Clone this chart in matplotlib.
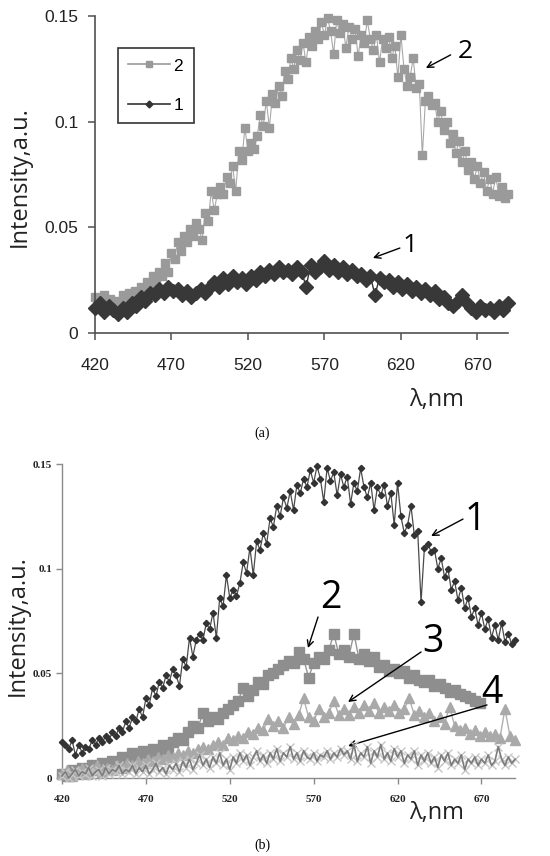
import numpy as np
import matplotlib.pyplot as plt
from matplotlib.lines import Line2D

plt.rcParams['font.family'] = ['Liberation Sans', 'DejaVu Sans']

# main spectrum: curve 2 in (a), curve 1 in (b); 2 nm step from 420 nm
main_spec = [
    0.017, 0.016, 0.014, 0.018, 0.011, 0.016, 0.012, 0.015, 0.014, 0.018,
    0.016, 0.019, 0.017, 0.020, 0.018, 0.022, 0.020, 0.024, 0.022, 0.027,
    0.024, 0.029, 0.027, 0.033, 0.029, 0.038, 0.035, 0.043, 0.039, 0.046,
    0.043, 0.049, 0.046, 0.052, 0.049, 0.044, 0.057, 0.053, 0.067, 0.058,
    0.066, 0.069, 0.066, 0.074, 0.071, 0.079, 0.067, 0.086, 0.082, 0.097,
    0.086, 0.090, 0.087, 0.093, 0.103, 0.098, 0.110, 0.097, 0.113, 0.109,
    0.117, 0.112, 0.124, 0.120, 0.130, 0.125, 0.134, 0.129, 0.137, 0.128,
    0.140, 0.136, 0.143, 0.139, 0.147, 0.141, 0.149, 0.143, 0.132, 0.148,
    0.142, 0.146, 0.135, 0.145, 0.139, 0.144, 0.131, 0.141, 0.137, 0.148,
    0.139, 0.134, 0.141, 0.128, 0.139, 0.135, 0.140, 0.130, 0.136, 0.121,
    0.141, 0.125, 0.117, 0.121, 0.130, 0.116, 0.118, 0.084, 0.110, 0.112,
    0.108, 0.109, 0.100, 0.105, 0.096, 0.100, 0.090, 0.094, 0.085, 0.091,
    0.081, 0.086, 0.077, 0.081, 0.073, 0.079, 0.071, 0.076, 0.067, 0.073,
    0.066, 0.074, 0.065, 0.069, 0.064, 0.066,
]

# curve 1 in (a); 3 nm step
weak_a = [
    0.012, 0.014, 0.010, 0.013, 0.011, 0.009, 0.012, 0.010, 0.014, 0.013,
    0.017, 0.015, 0.019, 0.018, 0.021, 0.019, 0.022, 0.020, 0.021, 0.018,
    0.020, 0.017, 0.019, 0.021, 0.019, 0.022, 0.024, 0.022, 0.026, 0.023,
    0.027, 0.024, 0.026, 0.023, 0.027, 0.025, 0.029, 0.027, 0.030, 0.028,
    0.031, 0.029, 0.030, 0.028, 0.031, 0.029, 0.022, 0.032, 0.029, 0.031,
    0.034, 0.030, 0.032, 0.029, 0.031, 0.028, 0.030, 0.027, 0.028, 0.025,
    0.027, 0.018, 0.026, 0.024, 0.025, 0.022, 0.024, 0.021, 0.023, 0.020,
    0.022, 0.019, 0.021, 0.018, 0.020, 0.016, 0.017, 0.014, 0.013, 0.015,
    0.018, 0.014, 0.012, 0.010, 0.013, 0.011, 0.012, 0.010, 0.013, 0.011,
    0.014,
]

# curves 2 and 3 in (b); 3 nm step
spec2_b = [
    0.002, 0.001, 0.004, 0.002, 0.005, 0.003, 0.006, 0.004, 0.007, 0.005,
    0.008, 0.007, 0.010, 0.009, 0.012, 0.010, 0.013, 0.012, 0.014, 0.013,
    0.016, 0.014, 0.017, 0.019, 0.018, 0.022, 0.025, 0.024, 0.031, 0.027,
    0.029, 0.028, 0.031, 0.033, 0.035, 0.037, 0.043, 0.039, 0.042, 0.046,
    0.045, 0.049, 0.050, 0.052, 0.054, 0.056, 0.055, 0.060, 0.057, 0.048,
    0.055, 0.058, 0.057, 0.061, 0.069, 0.059, 0.061, 0.058, 0.069, 0.057,
    0.059, 0.056, 0.058, 0.053, 0.054, 0.051, 0.052, 0.050, 0.051, 0.048,
    0.049, 0.047, 0.046, 0.047, 0.044, 0.045, 0.043, 0.041, 0.042, 0.040,
    0.039, 0.038, 0.037, 0.036,
]
spec3_b = [
    0.002, 0.004, 0.001, 0.003, 0.005, 0.002, 0.004, 0.006, 0.003, 0.005,
    0.004, 0.006, 0.005, 0.007, 0.006, 0.008, 0.007, 0.009, 0.008, 0.010,
    0.009, 0.011, 0.010, 0.012, 0.011, 0.013, 0.012, 0.014, 0.015, 0.014,
    0.016, 0.017, 0.016, 0.019, 0.018, 0.020, 0.019, 0.022, 0.021, 0.024,
    0.023, 0.028, 0.025, 0.027, 0.024, 0.029, 0.026, 0.030, 0.038, 0.029,
    0.027, 0.033, 0.029, 0.031, 0.037, 0.030, 0.033, 0.030, 0.034, 0.031,
    0.035, 0.032, 0.036, 0.031, 0.034, 0.032, 0.035, 0.031, 0.033, 0.038,
    0.030, 0.032, 0.029, 0.031, 0.027, 0.029, 0.026, 0.034, 0.025, 0.023,
    0.024, 0.021, 0.023, 0.020, 0.022, 0.020, 0.021, 0.019, 0.033, 0.020,
    0.018,
]
# curve 4 in (b); 2 nm step
spec4_b = [
    0.001, 0.003, 0.000, 0.002, 0.004, 0.001, 0.003, 0.002, 0.005, 0.001,
    0.003, 0.004, 0.001, 0.005, 0.002, 0.004, 0.003, 0.006, 0.002, 0.004,
    0.003, 0.006, 0.002, 0.005, 0.003, 0.006, 0.002, 0.004, 0.007, 0.003,
    0.005, 0.002, 0.006, 0.004, 0.007, 0.003, 0.008, 0.005, 0.009, 0.004,
    0.007, 0.011, 0.006, 0.009, 0.005, 0.010, 0.007, 0.012, 0.006, 0.009,
    0.004, 0.010, 0.007, 0.012, 0.008, 0.011, 0.006, 0.010, 0.013, 0.008,
    0.011, 0.007, 0.012, 0.009, 0.014, 0.008, 0.012, 0.010, 0.015, 0.009,
    0.012, 0.008, 0.013, 0.010, 0.009, 0.012, 0.008, 0.011, 0.010, 0.013,
    0.009, 0.012, 0.010, 0.014, 0.011, 0.013, 0.009, 0.016, 0.008, 0.012,
    0.010, 0.015, 0.007, 0.013, 0.010, 0.016, 0.009, 0.012, 0.008, 0.014,
    0.010, 0.013, 0.007, 0.011, 0.009, 0.013, 0.006, 0.011, 0.008, 0.012,
    0.007, 0.010, 0.005, 0.011, 0.008, 0.012, 0.006, 0.009, 0.007, 0.011,
    0.004, 0.009, 0.007, 0.010, 0.006, 0.009, 0.007, 0.011, 0.006, 0.008,
    0.015, 0.009, 0.006, 0.010, 0.007, 0.009,
]

x_ticks = [420, 470, 520, 570, 620, 670]
y_ticks = [0, 0.05, 0.1, 0.15]
y_ticklabels = ['0', '0.05', '0.1', '0.15']

wl_main = 420 + 2 * np.arange(len(main_spec))
wl_weak = 420 + 3 * np.arange(len(weak_a))
wl2 = 420 + 3 * np.arange(len(spec2_b))
wl3 = 420 + 3 * np.arange(len(spec3_b))
wl4 = 420 + 2 * np.arange(len(spec4_b))

lab_font = ['Open Sans', 'DejaVu Sans']
W, H = 550, 856


def label_arrow(ax, txt, txt_xy, start, tip, size):
    ax.annotate('', xy=tip, xytext=start, annotation_clip=False,
                arrowprops=dict(arrowstyle='->', color='black', lw=1,
                                shrinkA=0, shrinkB=0, mutation_scale=11))
    ax.text(txt_xy[0], txt_xy[1], txt, fontsize=size, family=lab_font,
            ha='center', va='center')


fig = plt.figure(figsize=(5.5, 8.56), dpi=100)

# ---------------- (a) ----------------
ax_a = fig.add_axes([95 / W, 1 - 333 / H, 413 / W, 317 / H])
ax_a.plot(wl_main, main_spec, color='#a8a8a8', lw=0.8, marker='s', ms=6,
          mfc='#9a9a9a', mec='#9a9a9a', clip_on=False, zorder=2)
ax_a.plot(wl_weak, weak_a, color='#333333', lw=1, marker='D', ms=7.5,
          mfc='#383838', mec='#383838', clip_on=False, zorder=3)
ax_a.set_xlim(420, 690)
ax_a.set_ylim(0, 0.15)
ax_a.set_xticks(x_ticks)
ax_a.set_yticks(y_ticks, y_ticklabels)
for s in ['top', 'right']:
    ax_a.spines[s].set_visible(False)
for s in ['left', 'bottom']:
    ax_a.spines[s].set_color('#505050')
    ax_a.spines[s].set_linewidth(1.2)
ax_a.tick_params(direction='out', length=5, width=1.1, color='#505050',
                 labelsize=12.5, labelcolor='#222222')
ax_a.tick_params(axis='x', pad=13)
ax_a.tick_params(axis='y', pad=7)

handles = [Line2D([], [], color='#999999', lw=1.2, marker='s', ms=4.5),
           Line2D([], [], color='#333333', lw=1.2, marker='D', ms=3.5)]
leg = ax_a.legend(handles, ['2', '1'], loc='upper left',
                  bbox_to_anchor=(118 / W, 1 - 48 / H),
                  bbox_transform=fig.transFigure, fancybox=False,
                  edgecolor='black', fontsize=12.5, handlelength=2.4,
                  labelspacing=1.4, borderpad=0.6, handletextpad=0.2,
                  borderaxespad=0)
leg.get_frame().set_linewidth(1.2)

label_arrow(ax_a, '2', (662, 0.133), (652.5, 0.1316), (636.3, 0.1254), 19)
label_arrow(ax_a, '1', (626, 0.0412), (619.3, 0.0402), (601.7, 0.0355), 19)

fig.text(20 / W, 1 - 177 / H, 'Intensity,a.u.', rotation=90, fontsize=17,
         family=lab_font, ha='center', va='center', color='#222222')
fig.text(437 / W, 1 - 400 / H, 'λ,nm', fontsize=17, family=lab_font,
         ha='center', va='center', color='#222222')
fig.text(262 / W, 1 - 433 / H, '(a)', fontsize=10, family='Liberation Serif',
         ha='center', va='center')

# ---------------- (b) ----------------
ax_b = fig.add_axes([62 / W, 1 - 778 / H, 453 / W, 314 / H])
ax_b.plot(wl2, spec2_b, color='#959595', lw=1, marker='s', ms=7,
          mfc='#8e8e8e', mec='#8e8e8e', clip_on=False, zorder=2)
ax_b.plot(wl3, spec3_b, color='#b0b0b0', lw=1, marker='^', ms=7,
          mfc='#a9a9a9', mec='#a9a9a9', clip_on=False, zorder=3)
ax_b.plot(wl4, spec4_b, ls='none', marker='x', ms=5.5, mec='#c6c6c6',
          mew=1, clip_on=False, zorder=4)
ax_b.plot(wl4, spec4_b, color='#7c7c7c', lw=1.2, clip_on=False, zorder=5)
ax_b.plot(wl_main, main_spec, color='#4a4a4a', lw=0.9, marker='D', ms=3.2,
          mfc='#333333', mec='#333333', clip_on=False, zorder=6)
ax_b.set_xlim(420, 690)
ax_b.set_ylim(0, 0.15)
ax_b.set_xticks(x_ticks)
ax_b.set_yticks(y_ticks, y_ticklabels)
for s in ['top', 'right']:
    ax_b.spines[s].set_visible(False)
for s in ['left', 'bottom']:
    ax_b.spines[s].set_color('#8a8a8a')
    ax_b.spines[s].set_linewidth(1)
ax_b.tick_params(direction='out', length=4, width=1, color='#8a8a8a',
                 labelsize=8, labelcolor='#222222')
ax_b.tick_params(axis='x', pad=8)
ax_b.tick_params(axis='y', pad=3)
for lbl in ax_b.get_xticklabels() + ax_b.get_yticklabels():
    lbl.set_family('Liberation Serif')
    lbl.set_fontweight('bold')

label_arrow(ax_b, '1', (666.2, 0.1233), (659, 0.1237), (640, 0.1156), 27)
label_arrow(ax_b, '2', (580.3, 0.086), (572.6, 0.0769), (566.6, 0.0621), 27)
label_arrow(ax_b, '3', (641.1, 0.065), (634, 0.0602), (590.5, 0.0363), 27)
label_arrow(ax_b, '4', (676.3, 0.0406), (673.3, 0.0349), (590.5, 0.0153), 27)

fig.text(18 / W, 1 - 626 / H, 'Intensity,a.u.', rotation=90, fontsize=17,
         family=lab_font, ha='center', va='center', color='#222222')
fig.text(437 / W, 1 - 813 / H, 'λ,nm', fontsize=17, family=lab_font,
         ha='center', va='center', color='#222222')
fig.text(262 / W, 1 - 845 / H, '(b)', fontsize=10, family='Liberation Serif',
         ha='center', va='center')

fig.savefig('out.png', dpi=100)
